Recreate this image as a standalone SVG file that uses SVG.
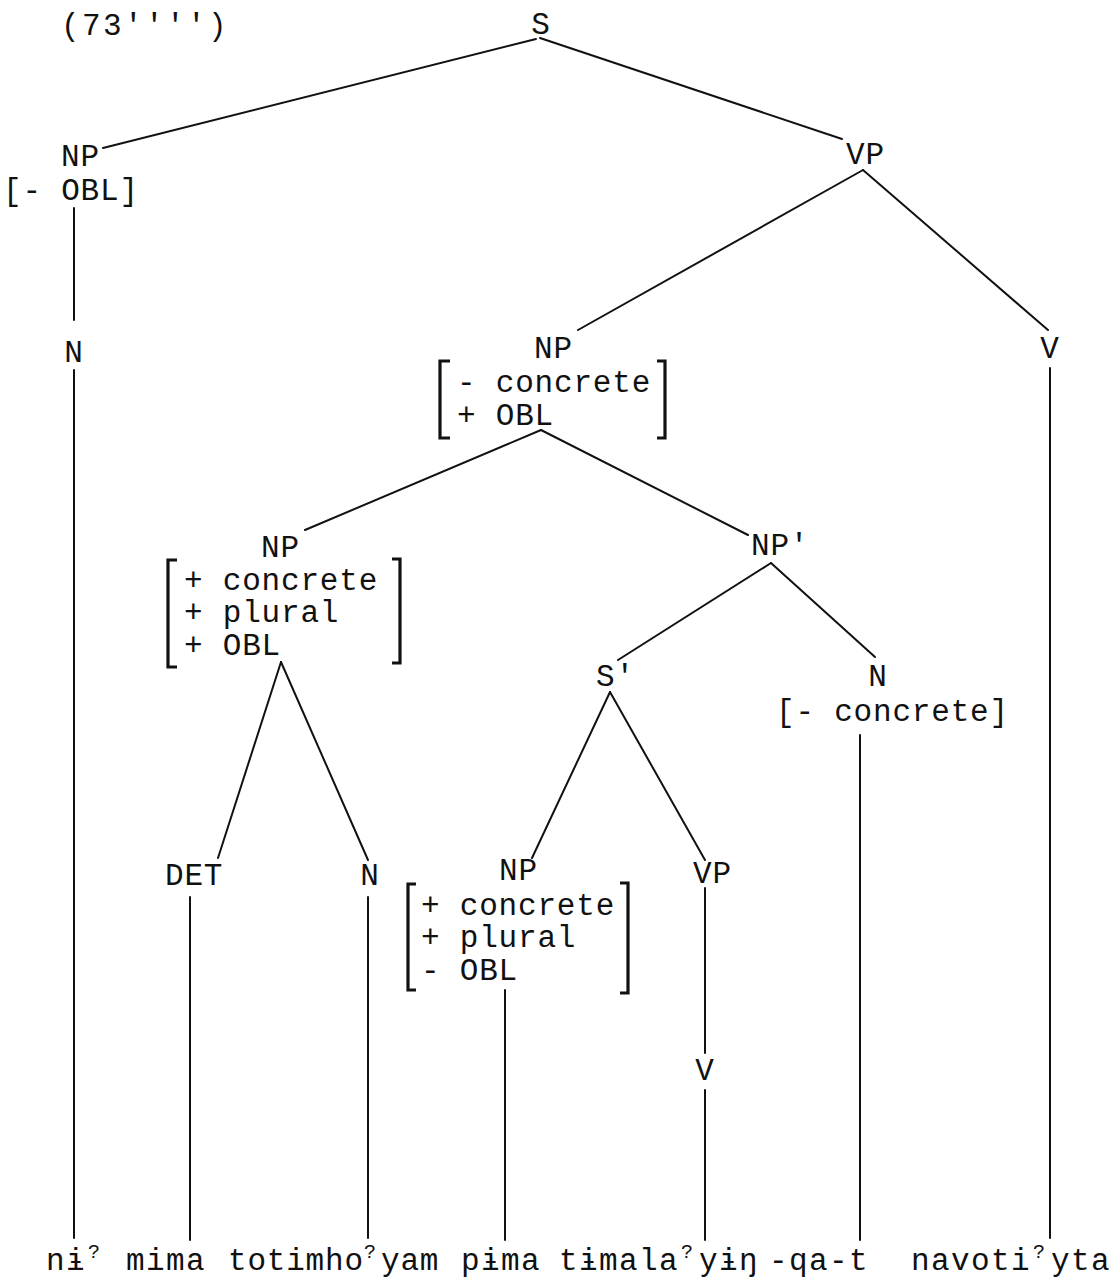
<svg xmlns="http://www.w3.org/2000/svg" width="1112" height="1280" viewBox="0 0 1112 1280">
<style>
text{font-family:"Liberation Mono","DejaVu Sans Mono",monospace;font-size:31px;letter-spacing:0.8px;fill:#111}
.m{text-anchor:middle}
.w{letter-spacing:1.4px}
.sup{font-size:20px}
.e{stroke:#111;stroke-width:2;fill:none;stroke-linecap:round}
.b{stroke:#111;stroke-width:3.2;fill:none;stroke-linejoin:miter}
</style>
<rect width="1112" height="1280" fill="#fff"/>
<text x="61" y="35" style="letter-spacing:2.4px">(73'''')</text>
<g id="connectors">
<line class="e" x1="536" y1="39" x2="103" y2="148"/>
<line class="e" x1="540" y1="38" x2="842" y2="139"/>
<line class="e" x1="74" y1="208" x2="74" y2="320"/>
<line class="e" x1="74" y1="370" x2="74" y2="1238"/>
<line class="e" x1="863" y1="170" x2="578" y2="330"/>
<line class="e" x1="863" y1="170" x2="1048" y2="330"/>
<line class="e" x1="1050" y1="368" x2="1050" y2="1238"/>
<line class="e" x1="541" y1="430" x2="305" y2="530"/>
<line class="e" x1="541" y1="430" x2="748" y2="535"/>
<line class="e" x1="281" y1="662" x2="218" y2="858"/>
<line class="e" x1="281" y1="662" x2="368" y2="860"/>
<line class="e" x1="771" y1="563" x2="618" y2="660"/>
<line class="e" x1="771" y1="563" x2="875" y2="657"/>
<line class="e" x1="610" y1="692" x2="532" y2="858"/>
<line class="e" x1="610" y1="692" x2="705" y2="860"/>
<line class="e" x1="190" y1="897" x2="190" y2="1240"/>
<line class="e" x1="368" y1="897" x2="368" y2="1238"/>
<line class="e" x1="505" y1="990" x2="505" y2="1240"/>
<line class="e" x1="705" y1="888" x2="705" y2="1053"/>
<line class="e" x1="705" y1="1090" x2="705" y2="1240"/>
<line class="e" x1="860" y1="735" x2="860" y2="1240"/>
</g>
<g id="n-S"><text class="m" x="541" y="34">S</text></g>
<g id="n-NP1"><text x="61" y="166">NP</text><text x="3" y="200">[- OBL]</text></g>
<g id="n-VP1"><text x="846" y="164">VP</text></g>
<g id="n-N1"><text class="m" x="74" y="362">N</text></g>
<g id="n-NP2">
<text x="534" y="358">NP</text>
<text x="457" y="392">- concrete</text>
<text x="457" y="425">+ OBL</text>
<path class="b" d="M450 361H440V438H450M657 361H665V438H657"/>
</g>
<g id="n-V1"><text class="m" x="1050" y="358">V</text></g>
<g id="n-NP3">
<text x="261" y="557">NP</text>
<text x="184" y="590">+ concrete</text>
<text x="184" y="622">+ plural</text>
<text x="184" y="655">+ OBL</text>
<path class="b" d="M177 560H168V667H177M392 559H400V663H392"/>
</g>
<g id="n-NP4"><text x="751" y="555">NP'</text></g>
<g id="n-S2"><text x="596" y="686">S'</text></g>
<g id="n-N2"><text class="m" x="878" y="686">N</text><text x="776" y="721">[- concrete]</text></g>
<g id="n-DET"><text x="165" y="885">DET</text></g>
<g id="n-N3"><text class="m" x="370" y="885">N</text></g>
<g id="n-NP5">
<text x="499" y="880">NP</text>
<text x="421" y="915">+ concrete</text>
<text x="421" y="947">+ plural</text>
<text x="421" y="980">- OBL</text>
<path class="b" d="M416 884H408V990H416M620 883H628V993H620"/>
</g>
<g id="n-VP2"><text x="693" y="883">VP</text></g>
<g id="n-V2"><text class="m" x="705" y="1080">V</text></g>
<g id="words">
<text class="w" y="1270"><tspan x="46">nɨ</tspan><tspan class="sup" x="88" dy="-12">?</tspan></text>
<text class="w" x="126" y="1270">mima</text>
<text y="1270"><tspan x="228">totimho</tspan><tspan class="sup" x="364" dy="-12">?</tspan><tspan x="381" dy="12">yam</tspan></text>
<text class="w" x="461" y="1270">pɨma</text>
<text class="w" y="1270"><tspan x="559">tɨmala</tspan><tspan class="sup" x="681" dy="-12">?</tspan><tspan x="699" dy="12">yɨŋ</tspan></text>
<text class="w" x="769" y="1270">-qa-t</text>
<text class="w" y="1270"><tspan x="911">navoti</tspan><tspan class="sup" x="1033" dy="-12">?</tspan><tspan x="1051" dy="12">yta</tspan></text>
</g>
</svg>
